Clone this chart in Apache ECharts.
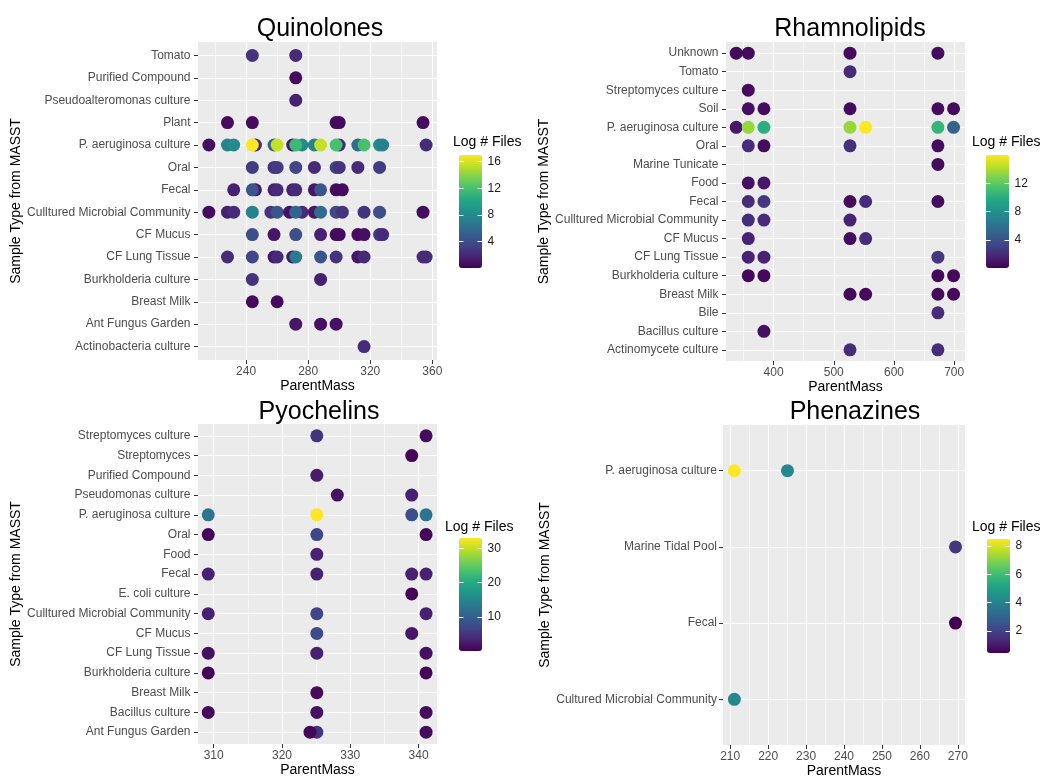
<!DOCTYPE html>
<html>
<head>
<meta charset="utf-8">
<script src="https://cdn.jsdelivr.net/npm/echarts@6/dist/echarts.min.js"></script>
<style>
  html, body { margin: 0; padding: 0; background: #fff; }
  #chart { width: 1044px; height: 781px; }
</style>
</head>
<body>
<div id="chart"></div>
<script>
// viridis palette used by the colour bars
const viridis = ['#440154','#482475','#414487','#355F8D','#2A788E','#21918C','#22A884','#44BF70','#7AD151','#BDDF26','#FDE725'];

// ---- Quinolones ----
const quinCats = ['Tomato','Purified Compound','Pseudoalteromonas culture','Plant','P. aeruginosa culture','Oral','Fecal',
  'Culltured Microbial Community','CF Mucus','CF Lung Tissue','Burkholderia culture','Breast Milk','Ant Fungus Garden','Actinobacteria culture'];
const quinMajor = [240, 280, 320, 360];
const quinMinor = [220, 260, 300, 340];
const quinColorTicks = [4, 8, 12, 16];
// [sample type, ParentMass, log # files]
const quinPoints = [
  ['Tomato',244,2.5],['Tomato',272,2],
  ['Purified Compound',272,0.5],
  ['Pseudoalteromonas culture',272,1.5],
  ['Plant',228,0.5],['Plant',244,0.5],['Plant',298,0.5],['Plant',300,0.5],['Plant',354,0.5],
  ['P. aeruginosa culture',216,0.7],['P. aeruginosa culture',228,7.5],['P. aeruginosa culture',232,8],
  ['P. aeruginosa culture',246,2],['P. aeruginosa culture',244,17],['P. aeruginosa culture',258,5.5],
  ['P. aeruginosa culture',260,15.5],['P. aeruginosa culture',270,1],['P. aeruginosa culture',276,8],
  ['P. aeruginosa culture',272,11.5],['P. aeruginosa culture',284,7.5],['P. aeruginosa culture',288,15.5],
  ['P. aeruginosa culture',300,2],['P. aeruginosa culture',298,12],['P. aeruginosa culture',312,6],
  ['P. aeruginosa culture',316,12],['P. aeruginosa culture',326,8],['P. aeruginosa culture',328,7.5],
  ['P. aeruginosa culture',356,2],
  ['Oral',244,3],['Oral',258,2.5],['Oral',260,3],['Oral',272,3.5],['Oral',284,2],['Oral',298,3.5],
  ['Oral',300,2.5],['Oral',312,2],['Oral',326,3],
  ['Fecal',232,1.5],['Fecal',246,1],['Fecal',244,4.5],['Fecal',258,1.5],['Fecal',260,2],['Fecal',270,1.5],
  ['Fecal',272,2],['Fecal',284,1],['Fecal',288,4.5],['Fecal',298,0.5],['Fecal',302,0.5],
  ['Culltured Microbial Community',216,0.5],['Culltured Microbial Community',228,1.5],['Culltured Microbial Community',232,2],
  ['Culltured Microbial Community',244,7.5],['Culltured Microbial Community',256,2.5],['Culltured Microbial Community',260,4.5],
  ['Culltured Microbial Community',268,0.8],['Culltured Microbial Community',276,2],['Culltured Microbial Community',272,5.5],
  ['Culltured Microbial Community',284,1],['Culltured Microbial Community',288,6],['Culltured Microbial Community',298,3.5],
  ['Culltured Microbial Community',302,2.5],['Culltured Microbial Community',316,2.5],['Culltured Microbial Community',326,4],
  ['Culltured Microbial Community',354,0.5],
  ['CF Mucus',244,4],['CF Mucus',258,1],['CF Mucus',272,4],['CF Mucus',288,1.5],['CF Mucus',298,0.5],['CF Mucus',300,0.5],
  ['CF Mucus',312,0.5],['CF Mucus',316,0.7],['CF Mucus',326,2.5],['CF Mucus',328,2],
  ['CF Lung Tissue',228,2],['CF Lung Tissue',244,3.5],['CF Lung Tissue',258,1],['CF Lung Tissue',260,2],['CF Lung Tissue',270,1],
  ['CF Lung Tissue',272,7],['CF Lung Tissue',288,4.5],['CF Lung Tissue',298,2.5],['CF Lung Tissue',312,1],['CF Lung Tissue',316,2],
  ['CF Lung Tissue',354,2],['CF Lung Tissue',356,2],
  ['Burkholderia culture',244,2.5],['Burkholderia culture',288,1.5],
  ['Breast Milk',244,0.5],['Breast Milk',260,0.5],
  ['Ant Fungus Garden',272,1],['Ant Fungus Garden',288,0.8],['Ant Fungus Garden',298,0.8],
  ['Actinobacteria culture',316,2]
];

// ---- Rhamnolipids ----
const rhamCats = ['Unknown','Tomato','Streptomyces culture','Soil','P. aeruginosa culture','Oral','Marine Tunicate','Food','Fecal',
  'Culltured Microbial Community','CF Mucus','CF Lung Tissue','Burkholderia culture','Breast Milk','Bile','Bacillus culture','Actinomycete culture'];
const rhamMajor = [400, 500, 600, 700];
const rhamMinor = [350, 450, 550, 650];
const rhamColorTicks = [4, 8, 12];
const rhamPoints = [
  ['Unknown',338,0.5],['Unknown',358,0.5],['Unknown',527,0.5],['Unknown',673,0.5],
  ['Tomato',527,2],
  ['Streptomyces culture',358,0.5],
  ['Soil',358,0.7],['Soil',384,0.5],['Soil',527,0.5],['Soil',673,0.5],['Soil',699,0.5],
  ['P. aeruginosa culture',338,1],['P. aeruginosa culture',358,13.5],['P. aeruginosa culture',384,10],
  ['P. aeruginosa culture',527,13.5],['P. aeruginosa culture',553,16],['P. aeruginosa culture',673,10.5],['P. aeruginosa culture',699,5],
  ['Oral',358,2],['Oral',384,0.5],['Oral',527,2.2],['Oral',673,0.5],
  ['Marine Tunicate',673,0.5],
  ['Food',358,0.7],['Food',384,1],
  ['Fecal',358,2],['Fecal',384,2.5],['Fecal',527,0.5],['Fecal',553,2],['Fecal',673,0.5],
  ['Culltured Microbial Community',358,2],['Culltured Microbial Community',384,2],['Culltured Microbial Community',527,1.5],
  ['CF Mucus',358,1.5],['CF Mucus',527,0.5],['CF Mucus',553,2],
  ['CF Lung Tissue',358,1.5],['CF Lung Tissue',384,1.5],['CF Lung Tissue',673,2.5],
  ['Burkholderia culture',358,0.3],['Burkholderia culture',384,0.3],['Burkholderia culture',673,0.3],['Burkholderia culture',699,0.3],
  ['Breast Milk',527,0.3],['Breast Milk',553,0.3],['Breast Milk',673,0.3],['Breast Milk',699,0.3],
  ['Bile',673,2],
  ['Bacillus culture',384,0.7],
  ['Actinomycete culture',527,2],['Actinomycete culture',673,2]
];

// ---- Pyochelins ----
const pyoCats = ['Streptomyces culture','Streptomyces','Purified Compound','Pseudomonas culture','P. aeruginosa culture','Oral','Food','Fecal',
  'E. coli culture','Culltured Microbial Community','CF Mucus','CF Lung Tissue','Burkholderia culture','Breast Milk','Bacillus culture','Ant Fungus Garden'];
const pyoMajor = [310, 320, 330, 340];
const pyoMinor = [315, 325, 335];
const pyoColorTicks = [10, 20, 30];
const pyoPoints = [
  ['Streptomyces culture',325.1,5],['Streptomyces culture',341.1,1],
  ['Streptomyces',339,0.5],
  ['Purified Compound',325.1,2.5],
  ['Pseudomonas culture',328.1,1.5],['Pseudomonas culture',339,3],
  ['P. aeruginosa culture',309.2,13],['P. aeruginosa culture',325.1,33],['P. aeruginosa culture',339,8],['P. aeruginosa culture',341.1,13],
  ['Oral',309.2,0.5],['Oral',325.1,7],['Oral',341.1,0.5],
  ['Food',325.1,3],
  ['Fecal',309.2,3],['Fecal',325.1,3],['Fecal',339,3],['Fecal',341.1,3],
  ['E. coli culture',339,0.5],
  ['Culltured Microbial Community',309.2,3],['Culltured Microbial Community',325.1,7],['Culltured Microbial Community',341.1,3],
  ['CF Mucus',325.1,7.5],['CF Mucus',339,2],
  ['CF Lung Tissue',309.2,1.5],['CF Lung Tissue',325.1,3],['CF Lung Tissue',341.1,1.5],
  ['Burkholderia culture',309.2,0.5],['Burkholderia culture',341.1,0.5],
  ['Breast Milk',325.1,1],
  ['Bacillus culture',309.2,1],['Bacillus culture',325.1,1.5],['Bacillus culture',341.1,1],
  ['Ant Fungus Garden',325.1,5],['Ant Fungus Garden',324.1,0.5],['Ant Fungus Garden',341.1,1]
];

// ---- Phenazines ----
const phenCats = ['P. aeruginosa culture','Marine Tidal Pool','Fecal','Cultured Microbial Community'];
const phenMajor = [210, 220, 230, 240, 250, 260, 270];
const phenMinor = [215, 225, 235, 245, 255, 265];
const phenColorTicks = [2, 4, 6, 8];
const phenPoints = [
  ['P. aeruginosa culture',211.1,8.5],['P. aeruginosa culture',225.1,4.2],
  ['Marine Tidal Pool',269.4,1.7],
  ['Fecal',269.4,0.45],
  ['Cultured Microbial Community',211.1,4.2]
];

const FONT = "'Liberation Sans', Arial, Helvetica, sans-serif";

const panels = [
  { title: 'Quinolones', cats: quinCats, points: quinPoints, xMin: 209, xMax: 363, major: quinMajor, minor: quinMinor,
    cMin: 0, cMax: 17, cTicks: quinColorTicks,
    grid: { left: 198, top: 42, width: 239, height: 318 }, yNameGap: 165, yLabelMargin: 7.5,
    titlePos: [320, 17], bar: [459, 155, 113], legendTitle: [453, 135] },
  { title: 'Rhamnolipids', cats: rhamCats, points: rhamPoints, xMin: 321, xMax: 718, major: rhamMajor, minor: rhamMinor,
    cMin: 0, cMax: 16, cTicks: rhamColorTicks,
    grid: { left: 726, top: 42, width: 239, height: 319 }, yNameGap: 173, yLabelMargin: 7.5,
    titlePos: [850, 17], bar: [986, 155, 113], legendTitle: [972, 135] },
  { title: 'Pyochelins', cats: pyoCats, points: pyoPoints, xMin: 307.7, xMax: 342.7, major: pyoMajor, minor: pyoMinor,
    cMin: 0, cMax: 33, cTicks: pyoColorTicks,
    grid: { left: 198, top: 424, width: 239, height: 320 }, yNameGap: 171, yLabelMargin: 7.5,
    titlePos: [319, 400], bar: [459, 538, 113], legendTitle: [445, 520] },
  { title: 'Phenazines', cats: phenCats, points: phenPoints, xMin: 208.1, xMax: 271.9, major: phenMajor, minor: phenMinor,
    cMin: 0.45, cMax: 8.5, cTicks: phenColorTicks,
    grid: { left: 723, top: 425, width: 242, height: 320 }, yNameGap: 158, yLabelMargin: 6,
    titlePos: [855, 400], bar: [987, 539, 114], legendTitle: [972, 520] }
];

let option = {
  animation: false,
  textStyle: { fontFamily: FONT },
  title: [], grid: [], xAxis: [], yAxis: [], series: [], visualMap: []
};

panels.forEach(p => {
  let n = p.cats.length;
  let idx = p.cats.map((c, i) => i);

  option.title.push({
    text: p.title, left: p.titlePos[0], top: p.titlePos[1], textAlign: 'center', padding: 0,
    textStyle: { fontSize: 25, fontWeight: 'normal', color: '#000', fontFamily: FONT }
  });
  option.title.push({
    text: 'Log # Files', left: p.legendTitle[0], top: p.legendTitle[1], padding: 0,
    textStyle: { fontSize: 14, fontWeight: 'normal', color: '#000', fontFamily: FONT }
  });

  // main panel
  let gi = option.grid.length;
  option.grid.push(Object.assign({ show: true, backgroundColor: '#EBEBEB', borderWidth: 0 }, p.grid));
  let xi = option.xAxis.length;
  option.xAxis.push({
    gridIndex: gi, type: 'value', min: p.xMin, max: p.xMax, position: 'bottom',
    axisLine: { show: false, onZero: false },
    axisTick: { customValues: p.major, length: 4, lineStyle: { color: '#333333', width: 1 } },
    axisLabel: { customValues: p.major, margin: 5.5, color: '#4D4D4D', fontSize: 12, fontFamily: FONT },
    splitLine: { show: true, lineStyle: { color: '#FFFFFF', width: 1.1 } },
    name: 'ParentMass', nameLocation: 'middle', nameGap: 19,
    nameTextStyle: { fontSize: 14, color: '#000', fontFamily: FONT }
  });
  option.xAxis.push({
    gridIndex: gi, type: 'value', min: p.xMin, max: p.xMax, position: 'top',
    axisLine: { show: false, onZero: false },
    axisTick: { show: false, customValues: p.minor },
    axisLabel: { show: false },
    splitLine: { show: true, lineStyle: { color: '#FFFFFF', width: 0.55 } }
  });
  let yi = option.yAxis.length;
  option.yAxis.push({
    gridIndex: gi, type: 'value', inverse: true, min: -0.6, max: n - 0.4,
    axisLine: { show: false, onZero: false },
    axisTick: { customValues: idx, length: 4, lineStyle: { color: '#333333', width: 1 } },
    axisLabel: { customValues: idx, margin: p.yLabelMargin, color: '#4D4D4D', fontSize: 12, fontFamily: FONT,
      formatter: v => p.cats[Math.round(v)] },
    splitLine: { show: true, lineStyle: { color: '#FFFFFF', width: 1.1 } },
    name: 'Sample Type from MASST', nameLocation: 'middle', nameGap: p.yNameGap,
    nameTextStyle: { fontSize: 14, color: '#000', fontFamily: FONT }
  });

  let si = option.series.length;
  option.series.push({
    type: 'scatter', xAxisIndex: xi, yAxisIndex: yi, symbolSize: 13,
    itemStyle: { opacity: 1 },
    data: p.points.map(d => [d[1], p.cats.indexOf(d[0]), d[2]])
  });

  option.visualMap.push({
    type: 'continuous', seriesIndex: si, dimension: 2, min: p.cMin, max: p.cMax,
    orient: 'vertical', left: p.bar[0], top: p.bar[1], itemWidth: 23, itemHeight: p.bar[2],
    padding: 0, calculable: false, hoverLink: false, inRange: { color: viridis }
  });

  // colour bar tick labels, laid on top of the visualMap bar
  let lg = option.grid.length;
  option.grid.push({ left: p.bar[0], top: p.bar[1], width: 23, height: p.bar[2], show: false });
  option.xAxis.push({ gridIndex: lg, type: 'value', show: false });
  option.yAxis.push({
    gridIndex: lg, type: 'value', min: p.cMin, max: p.cMax, position: 'right', z: 10,
    axisLine: { show: false, onZero: false },
    axisTick: { customValues: p.cTicks, inside: true, length: 4.5, lineStyle: { color: '#FFFFFF', width: 1 } },
    axisLabel: { customValues: p.cTicks, margin: 5.5, color: '#1A1A1A', fontSize: 12, fontFamily: FONT },
    splitLine: { show: false }
  });
  option.yAxis.push({
    gridIndex: lg, type: 'value', min: p.cMin, max: p.cMax, position: 'left', z: 10,
    axisLine: { show: false, onZero: false },
    axisTick: { customValues: p.cTicks, inside: true, length: 4.5, lineStyle: { color: '#FFFFFF', width: 1 } },
    axisLabel: { show: false },
    splitLine: { show: false }
  });
});

let myChart = echarts.init(document.getElementById('chart'), null, { renderer: 'canvas' });
myChart.setOption(option);
</script>
</body>
</html>
